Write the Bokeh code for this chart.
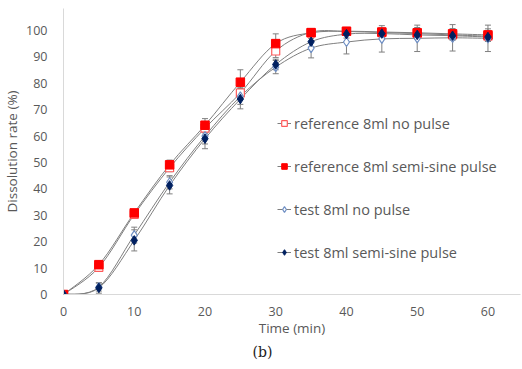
import numpy as np
from bokeh.plotting import figure
from bokeh.models import Range1d, Legend, LegendItem, Whisker, ColumnDataSource, Title, TeeHead
from bokeh.embed import file_html
from bokeh.resources import INLINE

t = [0, 5, 10, 15, 20, 25, 30, 35, 40, 45, 50, 55, 60]
ref_no = [0, 10.3, 30.3, 48.0, 63.0, 76.3, 92.2, 99.3, 99.6, 99.2, 98.8, 98.3, 97.8]
ref_no_err = [0.3, 1.5, 1.5, 1.5, 1.8, 2.0, 2.5, 1.0, 1.0, 1.5, 1.8, 2.0, 2.0]
ref_pulse = [0, 11.3, 30.9, 49.1, 64.1, 80.4, 95.0, 99.1, 99.7, 99.4, 99.1, 98.7, 98.3]
ref_pulse_err = [0.3, 1.5, 1.2, 1.8, 2.5, 4.7, 3.7, 1.0, 1.2, 1.5, 2.0, 2.0, 2.3]
test_no = [0, 2.8, 22.5, 42.5, 60.0, 75.0, 86.1, 93.3, 95.6, 96.8, 97.0, 97.2, 97.0]
test_no_err = [0.3, 1.5, 3.0, 2.5, 3.0, 3.0, 2.5, 3.7, 4.5, 5.0, 5.0, 5.0, 5.0]
test_pulse = [0, 2.5, 20.5, 41.3, 59.0, 74.0, 87.1, 95.7, 98.6, 98.8, 98.3, 98.0, 97.5]
test_pulse_err = [0.3, 2.0, 4.0, 3.2, 3.8, 3.7, 2.0, 2.0, 1.5, 1.5, 1.5, 1.5, 1.5]

labels = ["reference 8ml no pulse", "reference 8ml semi-sine pulse",
          "test 8ml no pulse", "test 8ml semi-sine pulse"]
y_ticks = [0, 10, 20, 30, 40, 50, 60, 70, 80, 90, 100]
x_ticks = [0, 10, 20, 30, 40, 50, 60]

FONT = "Open Sans"
GREY = "#595959"

p = figure(width=522, height=369, output_backend="svg", toolbar_location=None,
           x_range=Range1d(0, 64.6), y_range=Range1d(0, 108.3),
           min_border_left=56, min_border_right=2, min_border_top=8, min_border_bottom=75)
p.outline_line_color = None
p.grid.visible = False
p.background_fill_color = "white"

for ax in (p.xaxis[0], p.yaxis[0]):
    ax.axis_line_color = "#d9d9d9"
    ax.major_tick_line_color = None
    ax.minor_tick_line_color = None
    ax.major_label_text_color = GREY
    ax.major_label_text_font = FONT
    ax.major_label_text_font_size = "12.5px"
    ax.axis_label_text_color = GREY
    ax.axis_label_text_font = FONT
    ax.axis_label_text_font_size = "13.5px"
    ax.axis_label_text_font_style = "normal"

p.yaxis.ticker = y_ticks
p.xaxis.ticker = x_ticks
p.yaxis.major_label_standoff = 10
p.xaxis.major_label_standoff = 6
p.yaxis.axis_label = "Dissolution rate (%)"
p.xaxis.axis_label = "Time (min)"
p.yaxis.axis_label_standoff = 2
p.xaxis.axis_label_standoff = 0


def bez(xs, ys):
    xs = np.asarray(xs, float); ys = np.asarray(ys, float)
    n = len(xs)
    x0, y0, x1, y1, cx0, cy0, cx1, cy1 = ([] for _ in range(8))
    for i in range(n - 1):
        pm = max(i - 1, 0); pp = min(i + 2, n - 1)
        x0.append(xs[i]); y0.append(ys[i]); x1.append(xs[i + 1]); y1.append(ys[i + 1])
        cx0.append(xs[i] + (xs[i + 1] - xs[pm]) / 6); cy0.append(ys[i] + (ys[i + 1] - ys[pm]) / 6)
        cx1.append(xs[i + 1] - (xs[pp] - xs[i]) / 6); cy1.append(ys[i + 1] - (ys[pp] - ys[i]) / 6)
    return dict(x0=x0, y0=y0, x1=x1, y1=y1, cx0=cx0, cy0=cy0, cx1=cx1, cy1=cy1)


series = [
    (ref_no, ref_no_err, "square", "#ff5b5b", "white", 8, 1.2),
    (ref_pulse, ref_pulse_err, "square", "#ff0000", "#ff0000", 8.5, 1),
    (test_no, test_no_err, "diamond", "#6f8fc4", "white", 9, 1.2),
    (test_pulse, test_pulse_err, "diamond", "#002060", "#002060", 9.5, 1),
]

line_rs = []
for ys, err, *_ in series:
    line_rs.append(p.bezier(source=ColumnDataSource(bez(t, ys)), x0="x0", y0="y0", x1="x1", y1="y1",
                            cx0="cx0", cy0="cy0", cx1="cx1", cy1="cy1",
                            line_color="#7f7f7f", line_width=1))

for ys, err, *_ in series:
    ys_a = np.asarray(ys); e = np.asarray(err)
    src = ColumnDataSource(dict(x=t, lo=ys_a - e, hi=ys_a + e))
    w = Whisker(source=src, base="x", lower="lo", upper="hi", line_color="#7f7f7f", line_width=1,
                upper_head=TeeHead(size=6, line_color="#7f7f7f", line_width=1),
                lower_head=TeeHead(size=6, line_color="#7f7f7f", line_width=1))
    p.add_layout(w)

mark_rs = []
for ys, err, marker, lc, fc, sz, lw in series:
    mark_rs.append(p.scatter(t, ys, marker=marker, size=sz, line_color=lc, fill_color=fc, line_width=lw))

items = [LegendItem(label=lab, renderers=[lr, mr]) for lab, lr, mr in zip(labels, line_rs, mark_rs)]
legend = Legend(items=items, location=(214, 32), orientation="vertical",
                glyph_width=14, glyph_height=20, label_height=20, spacing=23,
                label_standoff=3, padding=0, margin=0,
                border_line_color=None, background_fill_alpha=0,
                label_text_font=FONT, label_text_font_size="14.5px", label_text_color=GREY)
p.add_layout(legend, "center")

cap = Title(text="(b)", align="left", offset=189, standoff=4,
            text_font="DejaVu Serif", text_font_size="14px", text_color="#222222",
            text_font_style="normal")
p.add_layout(cap, "below")

open("out.html", "w").write(file_html(p, INLINE))
